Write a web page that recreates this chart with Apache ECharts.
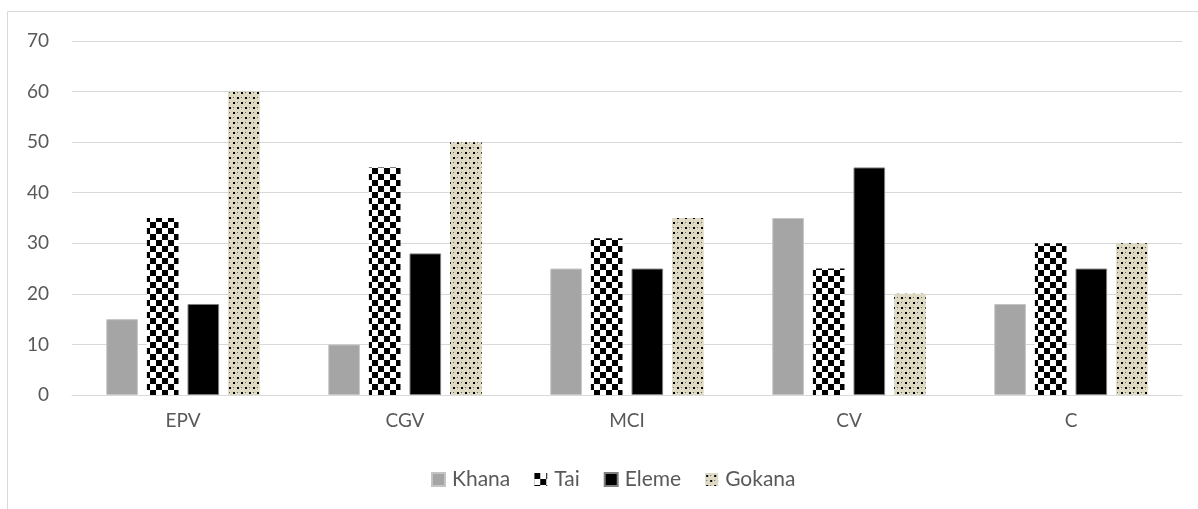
<!DOCTYPE html>
<html>
<head>
<meta charset="utf-8">
<script src="https://cdn.jsdelivr.net/npm/echarts@6/dist/echarts.min.js"></script>
<style>html,body{margin:0;padding:0;background:#fff}#c{width:1198px;height:509px}</style>
</head>
<body>
<div id="c"></div>
<script>
const categories = ['EPV', 'CGV', 'MCI', 'CV', 'C'];
const seriesNames = ['Khana', 'Tai', 'Eleme', 'Gokana'];
const khana = [15, 10, 25, 35, 18];
const tai = [35, 45, 31, 25, 30];
const eleme = [18, 28, 25, 45, 25];
const gokana = [60, 50, 35, 20, 30];
const yTicks = [0, 10, 20, 30, 40, 50, 60, 70];

function checker() {
  const c = document.createElement('canvas');
  c.width = 12; c.height = 12;
  const g = c.getContext('2d');
  g.fillStyle = '#fff'; g.fillRect(0, 0, 12, 12);
  g.fillStyle = '#000';
  g.fillRect(0, 0, 6, 6); g.fillRect(6, 6, 6, 6);
  return { image: c, repeat: 'repeat' };
}
function dots() {
  const c = document.createElement('canvas');
  c.width = 8; c.height = 10;
  const g = c.getContext('2d');
  g.fillStyle = '#DDD9C3'; g.fillRect(0, 0, 8, 10);
  g.fillStyle = '#000';
  g.fillRect(1, 2, 2, 2);
  g.fillRect(5, 7, 2, 2);
  g.fillStyle = '#6b6a60';
  g.fillRect(5, 2, 1, 1);
  g.fillRect(1, 7, 1, 1);
  return { image: c, repeat: 'repeat' };
}

const chart = echarts.init(document.getElementById('c'), null, { renderer: 'canvas' });
const font = 'Lato, "Open Sans", sans-serif';
const barCommon = { type: 'bar', barWidth: 31.6, barGap: '28.5%' };
chart.setOption({
  animation: false,
  textStyle: { fontFamily: font },
  graphic: [{
    type: 'rect', shape: { x: 7.5, y: 11.5, width: 1210, height: 520 },
    style: { fill: 'none', stroke: '#d9d9d9', lineWidth: 1 }, silent: true, z: -1
  }],
  grid: { left: 72, right: 16, top: 41, bottom: 114 },
  legend: {
    bottom: 14, left: 426, itemWidth: 13, itemHeight: 13, itemGap: 24,
    icon: 'rect',
    textStyle: { fontSize: 21, color: '#595959', fontFamily: font, padding: [0, 0, 0, 2] },
    data: seriesNames
  },
  xAxis: {
    type: 'category', data: categories,
    axisLine: { lineStyle: { color: '#d9d9d9', width: 1 } },
    axisTick: { show: false },
    axisLabel: { fontSize: 19, color: '#595959', margin: 16 }
  },
  yAxis: {
    type: 'value', min: yTicks[0], max: yTicks[yTicks.length - 1], interval: 10,
    axisLine: { show: false }, axisTick: { show: false },
    axisLabel: { fontSize: 19, color: '#595959', margin: 23 },
    splitLine: { lineStyle: { color: '#d9d9d9', width: 1 } }
  },
  series: [
    Object.assign({ name: seriesNames[0], data: khana, itemStyle: { color: '#A5A5A5', borderColor: '#c4c4c4', borderWidth: 1 } }, barCommon),
    Object.assign({ name: seriesNames[1], data: tai, itemStyle: { color: checker() } }, barCommon),
    Object.assign({ name: seriesNames[2], data: eleme, itemStyle: { color: '#000', borderColor: '#7f7f7f', borderWidth: 1 } }, barCommon),
    Object.assign({ name: seriesNames[3], data: gokana, itemStyle: { color: dots() } }, barCommon)
  ]
});
</script>
</body>
</html>
